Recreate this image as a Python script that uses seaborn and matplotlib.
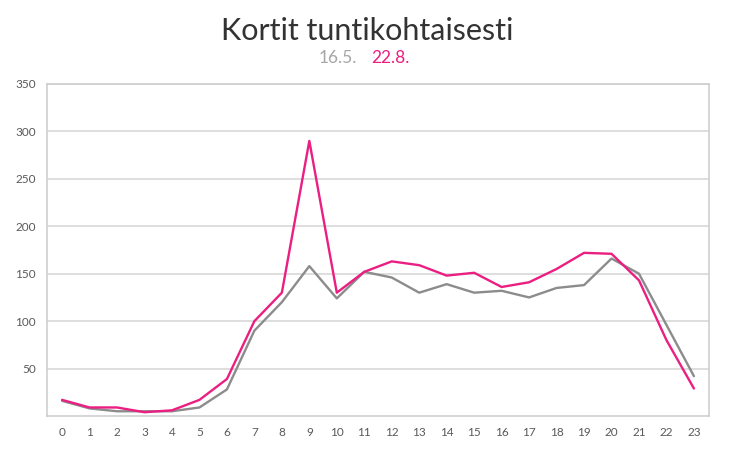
import matplotlib
matplotlib.use("Agg")
import matplotlib.pyplot as plt
import seaborn as sns
import pandas as pd

hours = list(range(24))
series_may = [16, 8, 5, 5, 5, 9, 28, 90, 120, 158, 124, 152, 146, 130, 139, 130, 132, 125, 135, 138, 166, 150, 96, 42]
series_aug = [17, 9, 9, 4, 6, 17, 39, 100, 130, 290, 130, 152, 163, 159, 148, 151, 136, 141, 155, 172, 171, 143, 80, 29]
labels = ["16.5.", "22.8."]
title = "Kortit tuntikohtaisesti"
yticks = [50, 100, 150, 200, 250, 300, 350]

GRAY = "#8c8c8c"
PINK = "#EB1E82"

sns.set_style("white")
plt.rcParams["font.family"] = ["Lato", "DejaVu Sans"]

df = pd.DataFrame({
    "hour": hours * 2,
    "value": series_may + series_aug,
    "series": [labels[0]] * 24 + [labels[1]] * 24,
})

fig = plt.figure(figsize=(7.34, 4.61), dpi=100)
ax = fig.add_axes([0.064, 0.0976, 0.902, 0.7202])

sns.lineplot(data=df, x="hour", y="value", hue="series",
             palette={labels[0]: GRAY, labels[1]: PINK},
             linewidth=1.7, ax=ax, legend=False)

ax.set_xlim(-0.55, 23.55)
ax.set_ylim(0, 350)
ax.set_xticks(hours)
ax.set_xticklabels([str(h) for h in hours])
ax.set_yticks(yticks)
ax.set_xlabel("")
ax.set_ylabel("")
ax.grid(axis="y", color="#d4d4d4", linewidth=1.1)
ax.set_axisbelow(True)
for s in ax.spines.values():
    s.set_visible(True)
    s.set_color("#cccccc")
    s.set_linewidth(1.1)
ax.tick_params(axis="both", length=0, labelsize=8.5, colors="#595959")
ax.tick_params(axis="x", pad=8)
ax.tick_params(axis="y", pad=8)

fig.text(0.5, 0.933, title, ha="center", va="center", fontsize=22, color="#333333")
fig.text(0.487, 0.874, labels[0], ha="right", va="center", fontsize=12.5, color="#a6a6a6")
fig.text(0.506, 0.874, labels[1], ha="left", va="center", fontsize=12.5, color=PINK)

fig.savefig("out.png", dpi=100)
